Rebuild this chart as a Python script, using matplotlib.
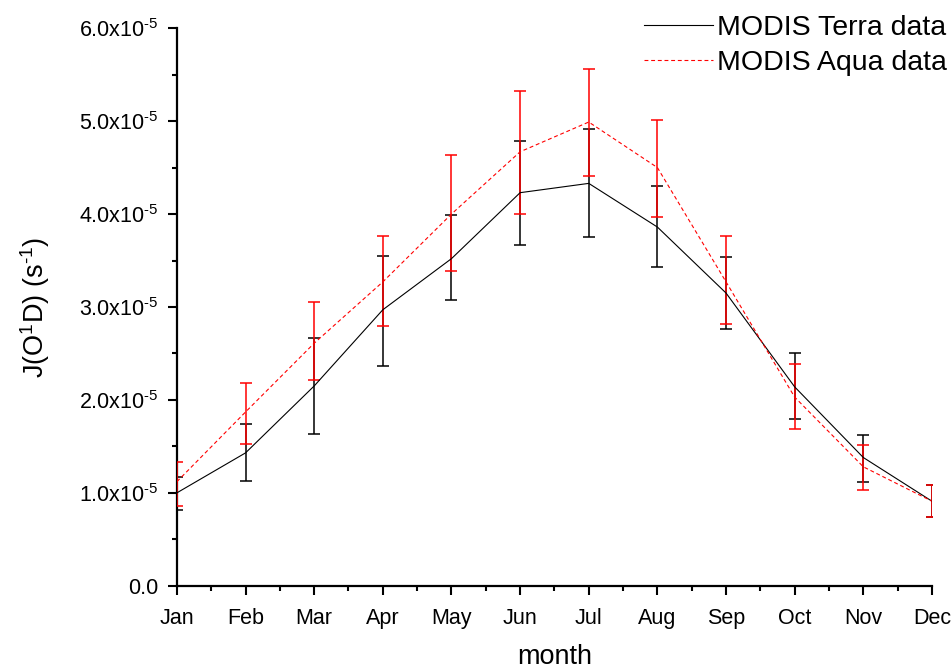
import matplotlib
matplotlib.use("Agg")
import matplotlib.pyplot as plt
import numpy as np
from matplotlib.ticker import MultipleLocator, FuncFormatter

plt.rcParams["font.family"] = ["Liberation Sans", "DejaVu Sans"]
plt.rcParams["mathtext.fontset"] = "custom"
plt.rcParams["mathtext.rm"] = "Liberation Sans"
plt.rcParams["mathtext.it"] = "Liberation Sans:italic"
plt.rcParams["mathtext.bf"] = "Liberation Sans:bold"

months = ["Jan", "Feb", "Mar", "Apr", "May", "Jun",
          "Jul", "Aug", "Sep", "Oct", "Nov", "Dec"]

# J(O1D) photolysis rates, units of 1e-5 s^-1
terra_mean = [1.00, 1.43, 2.15, 2.97, 3.52, 4.23, 4.33, 3.86, 3.15, 2.14, 1.38, 0.91]
terra_high = [1.17, 1.74, 2.67, 3.55, 3.99, 4.79, 4.92, 4.30, 3.54, 2.50, 1.62, 1.08]
terra_low = [0.82, 1.13, 1.63, 2.37, 3.07, 3.67, 3.75, 3.43, 2.76, 1.79, 1.12, 0.74]

aqua_mean = [1.12, 1.87, 2.61, 3.27, 4.00, 4.67, 4.99, 4.50, 3.27, 2.03, 1.28, 0.91]
aqua_high = [1.33, 2.18, 3.05, 3.76, 4.64, 5.32, 5.56, 5.01, 3.76, 2.39, 1.51, 1.08]
aqua_low = [0.86, 1.53, 2.21, 2.80, 3.39, 4.00, 4.41, 3.97, 2.82, 1.69, 1.03, 0.74]

scale = 1e-5
x = np.arange(len(months))


def to_err(mean, low, high):
    m = np.array(mean) * scale
    return m, np.vstack([m - np.array(low) * scale, np.array(high) * scale - m])


fig = plt.figure(figsize=(9.51, 6.71), dpi=100)
ax = fig.add_axes([0.186, 0.127, 0.794, 0.831])

tm, terr = to_err(terra_mean, terra_low, terra_high)
am, aerr = to_err(aqua_mean, aqua_low, aqua_high)

ax.errorbar(x, tm, yerr=terr, fmt="none", ecolor="black", elinewidth=1.1,
            capsize=4.3, capthick=1.1, zorder=2)
ax.errorbar(x, am, yerr=aerr, fmt="none", ecolor="red", elinewidth=1.1,
            capsize=4.3, capthick=1.1, zorder=3)
ax.plot(x, tm, color="black", lw=0.8, label="MODIS Terra data", zorder=4)
ax.plot(x, am, color="red", lw=0.8, dashes=(3.5, 2.5), label="MODIS Aqua data", zorder=5)

ax.set_xlim(0, 11)
ax.set_ylim(0, 6e-5)
ax.set_xticks(x)
ax.set_xticklabels(months)
ax.xaxis.set_minor_locator(MultipleLocator(0.5))
ax.yaxis.set_major_locator(MultipleLocator(1e-5))
ax.yaxis.set_minor_locator(MultipleLocator(0.5e-5))


def yfmt(v, pos):
    if abs(v) < 1e-12:
        return "0.0"
    return r"%.1fx10$^{\text{-5}}$" % (v / scale)


ax.yaxis.set_major_formatter(FuncFormatter(yfmt))

for side in ("top", "right"):
    ax.spines[side].set_visible(False)
for side in ("left", "bottom"):
    ax.spines[side].set_linewidth(1.6)

ax.tick_params(which="major", direction="out", length=6.5, width=1.5,
               labelsize=15.5)
ax.tick_params(axis="x", which="major", pad=9.5)
ax.tick_params(axis="y", which="major", pad=7)
ax.tick_params(which="minor", direction="out", length=3.8, width=1.5)

ax.set_xlabel("month", fontsize=19.5, labelpad=10.5)
ax.set_ylabel(r"J(O$^{\text{1}}$D) (s$^{\text{-1}}$)", fontsize=19.5, labelpad=19)

leg = fig.legend(loc="upper right", bbox_to_anchor=(1.0, 0.984), frameon=False,
                 fontsize=20.5, handlelength=2.4, handletextpad=0.15,
                 labelspacing=0.33, borderpad=0.15, borderaxespad=0.0)

fig.savefig("out.png", dpi=100)
